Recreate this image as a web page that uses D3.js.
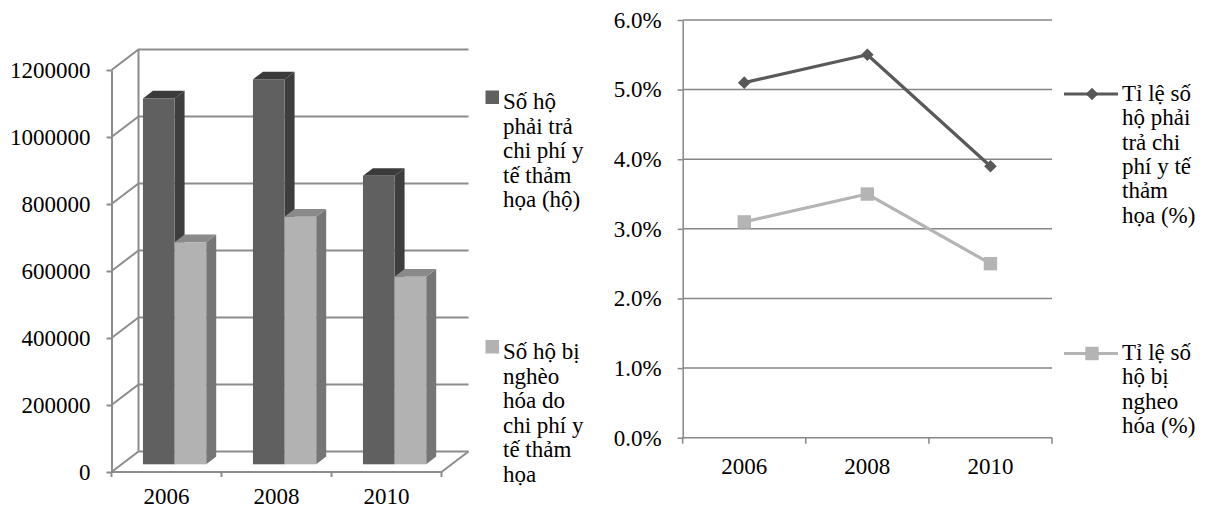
<!DOCTYPE html>
<html>
<head>
<meta charset="utf-8">
<script src="https://cdn.jsdelivr.net/npm/d3@7"></script>
<style>
  body { margin: 0; background: #fff; }
</style>
</head>
<body>
<svg id="chart" width="1206" height="509"></svg>
<script>
// ---- data ----
const years = ["2006", "2008", "2010"];
const householdsCatastrophic = [1092000, 1149000, 861000];   // số hộ phải trả chi phí y tế thảm họa
const householdsImpoverished = [663000, 739000, 560000];     // số hộ bị nghèo hóa
const countTicks = [0, 200000, 400000, 600000, 800000, 1000000, 1200000];

const rateCatastrophic = [0.051, 0.055, 0.039];
const rateImpoverished = [0.031, 0.035, 0.025];
const rateTicks = [0, 0.01, 0.02, 0.03, 0.04, 0.05, 0.06];

const legendCount = [
  ["Số hộ", "phải trả", "chi phí y", "tế thảm", "họa (hộ)"],
  ["Số hộ bị", "nghèo", "hóa do", "chi phí y", "tế thảm", "họa"]
];
const legendRate = [
  ["Tỉ lệ số", "hộ phải", "trả chi", "phí y tế", "thảm", "họa (%)"],
  ["Tỉ lệ số", "hộ bị", "ngheo", "hóa (%)"]
];

const svg = d3.select("#chart");
const GRID = "#8c8c8c";

// ================= left: 3-D column chart =================
const L = { x0: 111.5, x1: 441.5, y0: 472, y1: 70, dx: 27, dy: -20.5 };
const xL = d3.scaleBand().domain(years).range([L.x0, L.x1]);
const yL = d3.scaleLinear().domain([0, 1200000]).range([L.y0, L.y1]);
const sub = d3.scaleBand().domain([0, 1])
  .range([xL.bandwidth() * 0.195, xL.bandwidth() * 0.77]);

const gL = svg.append("g");

// back-wall gridlines, each with its slanted return to the front axis
gL.selectAll("path.grid").data(countTicks).join("path")
  .attr("class", "grid")
  .attr("d", v => `M${L.x0},${yL(v)}L${L.x0 + L.dx},${yL(v) + L.dy}L${L.x1 + L.dx},${yL(v) + L.dy}`)
  .attr("fill", "none").attr("stroke", GRID).attr("stroke-width", 2);

// back wall left edge and floor right edge
gL.append("line")
  .attr("x1", L.x0 + L.dx).attr("x2", L.x0 + L.dx)
  .attr("y1", yL(1200000) + L.dy).attr("y2", yL(0) + L.dy)
  .attr("stroke", GRID).attr("stroke-width", 2);
gL.append("line")
  .attr("x1", L.x1).attr("y1", yL(0))
  .attr("x2", L.x1 + L.dx).attr("y2", yL(0) + L.dy)
  .attr("stroke", GRID).attr("stroke-width", 2);

// y axis (front)
const yAxisL = gL.append("g").attr("transform", `translate(${L.x0},0)`)
  .call(d3.axisLeft(yL).tickValues(countTicks).tickFormat(d3.format("d"))
    .tickSize(5).tickSizeOuter(0).tickPadding(16));
yAxisL.selectAll("path,line").attr("stroke", GRID).attr("stroke-width", 2);

// x axis (front floor edge)
gL.append("line").attr("x1", L.x0).attr("x2", L.x1)
  .attr("y1", L.y0).attr("y2", L.y0).attr("stroke", GRID).attr("stroke-width", 2);
gL.selectAll("line.xtick").data([...years.map(y => xL(y)), L.x1]).join("line")
  .attr("class", "xtick")
  .attr("x1", d => d).attr("x2", d => d).attr("y1", L.y0).attr("y2", L.y0 + 5)
  .attr("stroke", GRID).attr("stroke-width", 2);
const xAxisL = gL.append("g").attr("transform", `translate(0,${L.y0})`)
  .call(d3.axisBottom(xL).tickSize(0).tickPadding(15.5));
xAxisL.select(".domain").remove();

// bars
const off = { x: 10, y: -7.7 };   // bar front plane relative to the front edge
const dep = { x: 10, y: -7.7 };   // bar depth
const barSeries = [
  { values: householdsCatastrophic, front: "#606060", side: "#3e3e3e", top: "#3b3b3b" },
  { values: householdsImpoverished, front: "#b2b2b2", side: "#767676", top: "#8a8a8a" }
];
const barData = [];
years.forEach((yr, i) => barData.push(...barSeries.map((s, k) => ({ yr, k, v: s.values[i], s }))));

const bars = gL.selectAll("g.bar").data(barData).join("g").attr("class", "bar");
bars.each(function (d) {
  const g = d3.select(this);
  const x = xL(d.yr) + sub(d.k) + off.x;
  const w = sub.bandwidth();
  const yb = yL(0) + off.y;
  const yt = yL(d.v) + off.y;
  g.append("polygon")
    .attr("points", [[x + w, yb], [x + w + dep.x, yb + dep.y], [x + w + dep.x, yt + dep.y], [x + w, yt]].join(" "))
    .attr("fill", d.s.side);
  g.append("polygon")
    .attr("points", [[x, yt], [x + dep.x, yt + dep.y], [x + w + dep.x, yt + dep.y], [x + w, yt]].join(" "))
    .attr("fill", d.s.top);
  g.append("rect").attr("x", x).attr("y", yt).attr("width", w).attr("height", yb - yt)
    .attr("fill", d.s.front);
});

// legend
const legL = svg.append("g");
const legLTop = [90.5, 340];
const legLBase = [109.3, 359.3];
legendCount.forEach((lines, k) => {
  legL.append("rect").attr("x", 485.5).attr("y", legLTop[k]).attr("width", 13.5).attr("height", 13.5)
    .attr("fill", barSeries[k].front);
  const t = legL.append("text").attr("x", 503).attr("y", legLBase[k]);
  lines.forEach((ln, j) => t.append("tspan").attr("x", 503).attr("dy", j === 0 ? 0 : 24.45).text(ln));
});

// ================= right: line chart =================
const R = { x0: 682.7, x1: 1052, y0: 437.7, y1: 20 };
const xR = d3.scaleBand().domain(years).range([R.x0, R.x1]);
const yR = d3.scaleLinear().domain([0, 0.06]).range([R.y0, R.y1]);
const AX = "#868686";
const gR = svg.append("g");

gR.selectAll("line.grid").data(rateTicks.filter(v => v > 0)).join("line")
  .attr("class", "grid")
  .attr("x1", R.x0).attr("x2", R.x1).attr("y1", d => yR(d)).attr("y2", d => yR(d))
  .attr("stroke", AX).attr("stroke-width", 1.5);

const yAxisR = gR.append("g").attr("transform", `translate(${R.x0},0)`)
  .call(d3.axisLeft(yR).tickValues(rateTicks).tickFormat(d3.format(".1%"))
    .tickSize(5).tickSizeOuter(0).tickPadding(16));
yAxisR.selectAll("path,line").attr("stroke", AX).attr("stroke-width", 1.5);

gR.append("line").attr("x1", R.x0).attr("x2", R.x1).attr("y1", R.y0).attr("y2", R.y0)
  .attr("stroke", AX).attr("stroke-width", 1.5);
gR.selectAll("line.xtick").data([...years.map(y => xR(y)), R.x1]).join("line")
  .attr("class", "xtick")
  .attr("x1", d => d).attr("x2", d => d).attr("y1", R.y0).attr("y2", R.y0 + 6)
  .attr("stroke", AX).attr("stroke-width", 1.5);
const xAxisR = gR.append("g").attr("transform", `translate(0,${R.y0})`)
  .call(d3.axisBottom(xR).tickSize(0).tickPadding(20));
xAxisR.select(".domain").remove();

const diamond = r => `M0,${-r}L${r},0L0,${r}L${-r},0Z`;
const square = r => `M${-r},${-r}H${r}V${r}H${-r}Z`;
const lineSeries = [
  { values: rateCatastrophic, color: "#595959", marker: diamond(6.3) },
  { values: rateImpoverished, color: "#b4b4b4", marker: square(6.7) }
];
const cx = yr => xR(yr) + xR.bandwidth() / 2;
const lineGen = d3.line().x((d, i) => cx(years[i])).y(d => yR(d));

lineSeries.forEach(s => {
  gR.append("path").attr("d", lineGen(s.values)).attr("fill", "none")
    .attr("stroke", s.color).attr("stroke-width", 3.2).attr("stroke-linejoin", "round");
  gR.selectAll(null).data(s.values).join("path")
    .attr("transform", (d, i) => `translate(${cx(years[i])},${yR(d)})`)
    .attr("d", s.marker).attr("fill", s.color);
});

// legend
const legR = svg.append("g");
const legRY = [94, 353.5];
const legRBase = [101, 360];
legendRate.forEach((lines, k) => {
  const s = lineSeries[k];
  legR.append("line").attr("x1", 1064).attr("x2", 1118).attr("y1", legRY[k]).attr("y2", legRY[k])
    .attr("stroke", s.color).attr("stroke-width", 3.2);
  legR.append("path").attr("transform", `translate(1092,${legRY[k]})`).attr("d", s.marker).attr("fill", s.color);
  const t = legR.append("text").attr("x", 1122).attr("y", legRBase[k]);
  lines.forEach((ln, j) => t.append("tspan").attr("x", 1122).attr("dy", j === 0 ? 0 : 24.3).text(ln));
});

// typography for every label
svg.selectAll("text")
  .style("font-family", "'Liberation Serif', 'Times New Roman', serif")
  .style("font-size", "23px")
  .style("fill", "#000");
</script>
</body>
</html>
